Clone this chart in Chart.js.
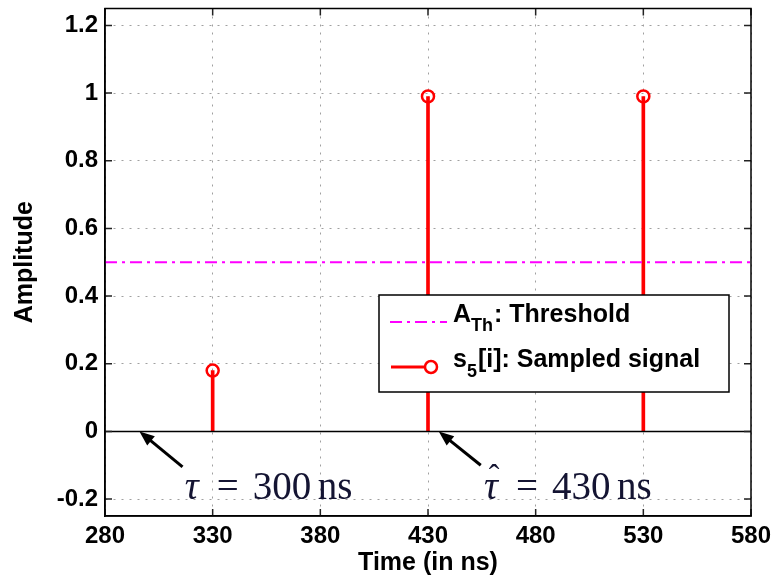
<!DOCTYPE html>
<html>
<head>
<meta charset="utf-8">
<script src="https://cdn.jsdelivr.net/npm/chart.js@4/dist/chart.umd.min.js"></script>
<style>
  html, body { margin: 0; padding: 0; background: #fff; }
  #wrap { width: 773px; height: 578px; }
</style>
</head>
<body>
<div id="wrap"><canvas id="c" width="773" height="578"></canvas></div>
<script>
// ---- data ----
const times = [330, 430, 530];          // ns
const amplitudes = [0.18, 0.99, 0.99];  // s5[i]
const threshold = 0.5;                  // A_Th
const xRange = [280, 580];
const yRange = [-0.25, 1.25];
const xTicks = [280, 330, 380, 430, 480, 530, 580];
const yTicks = [-0.2, 0, 0.2, 0.4, 0.6, 0.8, 1, 1.2];

// arrows + labels (data coordinates)
const notes = [
    { label: '300', hat: false, tip: [296, 0], tail: [316, -0.105], at: [317, -0.2] },
    { label: '430', hat: true,  tip: [435, 0], tail: [454.5, -0.1], at: [456, -0.2] }
];

const SANS = "'Liberation Sans', Arial, sans-serif";
const SERIF = "'Liberation Serif', 'Times New Roman', serif";

// ====== frame, inner ticks, notes, legend ======
const decor = {
    id: 'decor',
    afterDraw(chart) {
        const ctx = chart.ctx;
        const a = chart.chartArea;
        const xs = chart.scales.x, ys = chart.scales.y;

        ctx.save();
        // inward tick marks on all four sides
        ctx.strokeStyle = '#222';
        ctx.lineWidth = 1.5;
        ctx.beginPath();
        xTicks.forEach(v => {
            const px = xs.getPixelForValue(v);
            ctx.moveTo(px, a.bottom); ctx.lineTo(px, a.bottom - 7);
            ctx.moveTo(px, a.top); ctx.lineTo(px, a.top + 7);
        });
        yTicks.forEach(v => {
            const py = ys.getPixelForValue(v);
            ctx.moveTo(a.left, py); ctx.lineTo(a.left + 7, py);
            ctx.moveTo(a.right, py); ctx.lineTo(a.right - 7, py);
        });
        ctx.stroke();

        // box
        ctx.strokeStyle = '#000';
        ctx.lineWidth = 1.5;
        ctx.strokeRect(a.left, a.top, a.right - a.left, a.bottom - a.top);

        // arrows and tau labels
        notes.forEach(n => {
            const tx = xs.getPixelForValue(n.tip[0]), ty = ys.getPixelForValue(n.tip[1]);
            const sx = xs.getPixelForValue(n.tail[0]), sy = ys.getPixelForValue(n.tail[1]);
            const ang = Math.atan2(ty - sy, tx - sx);
            ctx.strokeStyle = '#000';
            ctx.fillStyle = '#000';
            ctx.lineWidth = 3;
            ctx.beginPath();
            ctx.moveTo(sx, sy);
            ctx.lineTo(tx - 9 * Math.cos(ang), ty - 9 * Math.sin(ang));
            ctx.stroke();
            ctx.beginPath();
            ctx.moveTo(tx, ty);
            ctx.lineTo(tx - 15 * Math.cos(ang) + 6 * Math.sin(ang), ty - 15 * Math.sin(ang) - 6 * Math.cos(ang));
            ctx.lineTo(tx - 15 * Math.cos(ang) - 6 * Math.sin(ang), ty - 15 * Math.sin(ang) + 6 * Math.cos(ang));
            ctx.closePath();
            ctx.fill();

            const x = xs.getPixelForValue(n.at[0]);
            const y = ys.getPixelForValue(n.at[1]);
            ctx.fillStyle = '#141432';
            ctx.textBaseline = 'alphabetic';
            ctx.textAlign = 'left';
            ctx.font = 'italic 39px ' + SERIF;
            ctx.fillText('τ', x, y);
            const tw = ctx.measureText('τ').width;
            if (n.hat) {
                ctx.font = '32px ' + SERIF;
                ctx.textAlign = 'center';
                ctx.fillText('ˆ', x + tw / 2 + 3, y - 13);
                ctx.textAlign = 'left';
            }
            ctx.font = '39px ' + SERIF;
            ctx.fillText('=', x + 32, y);
            ctx.fillText(n.label, x + 68, y);
            ctx.fillText('ns', x + 133, y);
        });

        // legend
        const L = { x: 379, y: 295, w: 350, h: 97 };
        ctx.fillStyle = '#fff';
        ctx.fillRect(L.x, L.y, L.w, L.h);
        ctx.strokeStyle = '#000';
        ctx.lineWidth = 1.5;
        ctx.strokeRect(L.x, L.y, L.w, L.h);

        // threshold sample
        ctx.strokeStyle = '#ff00ff';
        ctx.lineWidth = 2;
        ctx.setLineDash([12, 5, 3, 5]);
        ctx.beginPath(); ctx.moveTo(390, 322); ctx.lineTo(447, 322); ctx.stroke();
        ctx.setLineDash([]);
        // signal sample
        ctx.strokeStyle = '#ff0000';
        ctx.lineWidth = 3;
        ctx.beginPath(); ctx.moveTo(391, 367); ctx.lineTo(425, 367); ctx.stroke();
        ctx.lineWidth = 2.5;
        ctx.beginPath(); ctx.arc(431, 367, 6, 0, Math.PI * 2); ctx.stroke();

        ctx.fillStyle = '#000';
        ctx.textAlign = 'left';
        const big = 'bold 25px ' + SANS, small = 'bold 18px ' + SANS;
        let x = 453;
        ctx.font = big; ctx.fillText('A', x, 322); x += ctx.measureText('A').width;
        ctx.font = small; ctx.fillText('Th', x, 331); x += ctx.measureText('Th').width + 1;
        ctx.font = big; ctx.fillText(': Threshold', x, 322);
        x = 453;
        ctx.font = big; ctx.fillText('s', x, 367); x += ctx.measureText('s').width;
        ctx.font = small; ctx.fillText('5', x, 377); x += ctx.measureText('5').width + 1;
        ctx.font = big; ctx.fillText('[i]: Sampled signal', x, 367);
        ctx.restore();
    }
};

const axisFont = { family: SANS, size: 24, weight: 'bold' };
const gridOpts = { color: '#a0a0a0', lineWidth: 1, drawTicks: false, offset: false };
const borderOpts = { color: '#000', width: 1.5, dash: [2, 6] };

new Chart(document.getElementById('c'), {
    data: {
        datasets: [
            {
                type: 'line',
                label: 'A_Th: Threshold',
                data: xRange.map(x => ({ x: x, y: threshold })),
                borderColor: '#ff00ff',
                borderWidth: 2,
                borderDash: [12, 5, 3, 5],
                pointRadius: 0
            },
            {
                type: 'line',
                label: 'zero',
                data: xRange.map(x => ({ x: x, y: 0 })),
                borderColor: '#000',
                borderWidth: 1.5,
                pointRadius: 0
            },
            {
                type: 'bar',
                label: 'stems',
                data: times.map((t, i) => ({ x: t, y: amplitudes[i] })),
                backgroundColor: '#ff0000',
                barThickness: 3,
                grouped: false
            },
            {
                type: 'scatter',
                label: 's5[i]: Sampled signal',
                data: times.map((t, i) => ({ x: t, y: amplitudes[i] })),
                borderColor: '#ff0000',
                backgroundColor: 'rgba(0,0,0,0)',
                borderWidth: 2.5,
                pointRadius: 6,
                pointHoverRadius: 6
            }
        ]
    },
    options: {
        responsive: false,
        animation: false,
        layout: { padding: { top: 8, right: 22, left: 0, bottom: 0 } },
        plugins: { legend: { display: false }, tooltip: { enabled: false } },
        scales: {
            x: {
                type: 'linear',
                offset: false,
                min: xRange[0],
                max: xRange[1],
                afterBuildTicks: s => { s.ticks = xTicks.map(v => ({ value: v })); },
                afterFit: s => { s.height = 62; s.paddingLeft = 0; s.paddingRight = 0; },
                ticks: { font: axisFont, color: '#000', padding: 6, maxRotation: 0, autoSkip: false },
                grid: gridOpts,
                border: borderOpts,
                title: { display: true, text: 'Time (in ns)', color: '#000', font: { family: SANS, size: 25, weight: 'bold' }, padding: { top: 0, bottom: 0 } }
            },
            y: {
                type: 'linear',
                min: yRange[0],
                max: yRange[1],
                afterBuildTicks: s => { s.ticks = yTicks.map(v => ({ value: v })); },
                afterFit: s => { s.width = 105; s.paddingTop = 0; s.paddingBottom = 0; },
                ticks: { font: axisFont, color: '#000', padding: 7, callback: v => String(Math.round(v * 10) / 10) },
                grid: gridOpts,
                border: borderOpts,
                title: { display: true, text: 'Amplitude', color: '#000', font: { family: SANS, size: 25, weight: 'bold' }, padding: { top: 10, bottom: 0 } }
            }
        }
    },
    plugins: [decor]
});
</script>
</body>
</html>
